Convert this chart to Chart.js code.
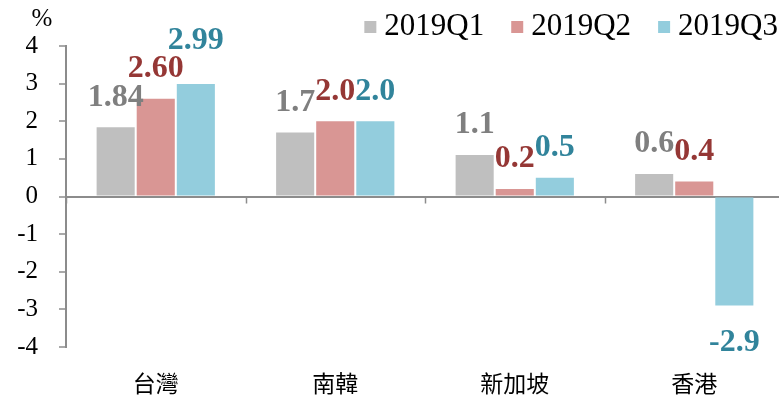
<!DOCTYPE html>
<html>
<head>
<meta charset="utf-8">
<script src="https://cdn.jsdelivr.net/npm/chart.js@4.4.1/dist/chart.umd.min.js"></script>
<style>
  body { margin: 0; overflow: hidden; background: #fff; }
  #wrap { width: 779px; height: 401px; overflow: hidden; }
</style>
</head>
<body>
<div id="wrap"><canvas id="grafico" width="785" height="401"></canvas></div>
<script>
const categorias = ['台灣', '南韓', '新加坡', '香港'];
const series = ['2019Q1', '2019Q2', '2019Q3'];
const q1 = [1.84, 1.7, 1.1, 0.6];
const q2 = [2.60, 2.0, 0.2, 0.4];
const q3 = [2.99, 2.0, 0.5, -2.9];
const rotulos1 = ['1.84', '1.7', '1.1', '0.6'];
const rotulos2 = ['2.60', '2.0', '0.2', '0.4'];
const rotulos3 = ['2.99', '2.0', '0.5', '-2.9'];
const yMin = -4;
const yMax = 4;

const corBarra = ['#bfbfbf', '#d99694', '#93cddd'];
const corTexto = ['#7f7f7f', '#953735', '#31849b'];
const cinza = '#8c8c8c';
const serif = '"Liberation Serif", "Times New Roman", serif';

const rotulos = [rotulos1, rotulos2, rotulos3];

// rotulos de valor, legenda, "%" e marcas do eixo x
const extras = {
    id: 'extras',
    afterDatasetsDraw(chart) {
        const c = chart.ctx;
        const y = chart.scales.y;
        const x = chart.scales.x;
        const zero = y.getPixelForValue(0);

        c.save();
        // marcas nas divisas das categorias
        c.strokeStyle = cinza;
        c.lineWidth = 1.5;
        const passo = x.getPixelForValue(1) - x.getPixelForValue(0);
        for (let i = 0; i < categorias.length; i++) {
            const xb = Math.round(x.getPixelForValue(i) - passo / 2) + 0.5;
            c.beginPath();
            c.moveTo(xb, zero);
            c.lineTo(xb, zero + 7);
            c.stroke();
        }

        c.font = 'bold 32px ' + serif;
        c.textAlign = 'center';
        c.textBaseline = 'middle';
        const altura = 24;
        for (let i = 0; i < categorias.length; i++) {
            const postos = [];
            chart.data.datasets.forEach((ds, d) => {
                const barra = chart.getDatasetMeta(d).data[i];
                const v = ds.data[i];
                const txt = rotulos[d][i];
                const w = c.measureText(txt).width;
                let yy = v >= 0 ? barra.y - 30 : barra.y + 37;
                // sobe o rotulo se bater em outro ja desenhado
                postos.forEach(p => {
                    const cruzaX = Math.abs(p.x - barra.x) < (p.w + w) / 2 - 4;
                    const cruzaY = Math.abs(p.y - yy) < altura;
                    if (cruzaX && cruzaY) yy = p.y - (altura + 4);
                });
                postos.push({ x: barra.x, y: yy, w: w });
                c.fillStyle = corTexto[d];
                c.fillText(txt, barra.x, yy);
            });
        }

        // "%"
        c.font = '25px ' + serif;
        c.fillStyle = '#000';
        c.fillText('%', chart.chartArea.left - 24, chart.chartArea.top - 27);

        // legenda
        c.font = '31px ' + serif;
        c.textAlign = 'left';
        const caixa = 12, vao = 8, entre = 27;
        const larguras = series.map(s => caixa + vao + c.measureText(s).width);
        const total = larguras.reduce((a, b) => a + b, 0) + entre * (series.length - 1);
        let xl = 778 - total;
        series.forEach((s, k) => {
            c.fillStyle = corBarra[k];
            c.fillRect(xl, 21, caixa, caixa);
            c.fillStyle = '#000';
            c.fillText(s, xl + caixa + vao, 27);
            xl += larguras[k] + entre;
        });
        c.restore();
    }
};

const chart = new Chart(document.getElementById('grafico'), {
    type: 'bar',
    data: {
        labels: categorias,
        datasets: [
            { label: series[0], data: q1, backgroundColor: corBarra[0] },
            { label: series[1], data: q2, backgroundColor: corBarra[1] },
            { label: series[2], data: q3, backgroundColor: corBarra[2] }
        ]
    },
    options: {
        responsive: false,
        animation: false,
        devicePixelRatio: 1,
        categoryPercentage: 0.67,
        barPercentage: 0.95,
        layout: { padding: { top: 46, right: 1, left: 0, bottom: 0 } },
        plugins: {
            legend: { display: false },
            tooltip: { enabled: false }
        },
        scales: {
            x: {
                grid: { display: false },
                border: { display: false },
                ticks: {
                    color: '#000',
                    font: { family: '"Noto Sans CJK TC", sans-serif', size: 23 },
                    padding: 14,
                    maxRotation: 0,
                    autoSkip: false
                },
                afterFit(scale) { scale.height = 54; }
            },
            y: {
                min: yMin,
                max: yMax,
                border: { display: true, color: cinza, width: 2 },
                grid: {
                    drawOnChartArea: true,
                    color: ctx => (ctx.tick && ctx.tick.value === 0) ? cinza : 'rgba(0,0,0,0)',
                    lineWidth: 2,
                    tickColor: cinza,
                    tickWidth: 1.5,
                    tickLength: 7
                },
                ticks: {
                    stepSize: 1,
                    color: '#000',
                    font: { family: serif, size: 25 },
                    padding: 21
                },
                afterFit(scale) { scale.width = 66; }
            }
        }
    },
    plugins: [extras]
});
</script>
</body>
</html>
